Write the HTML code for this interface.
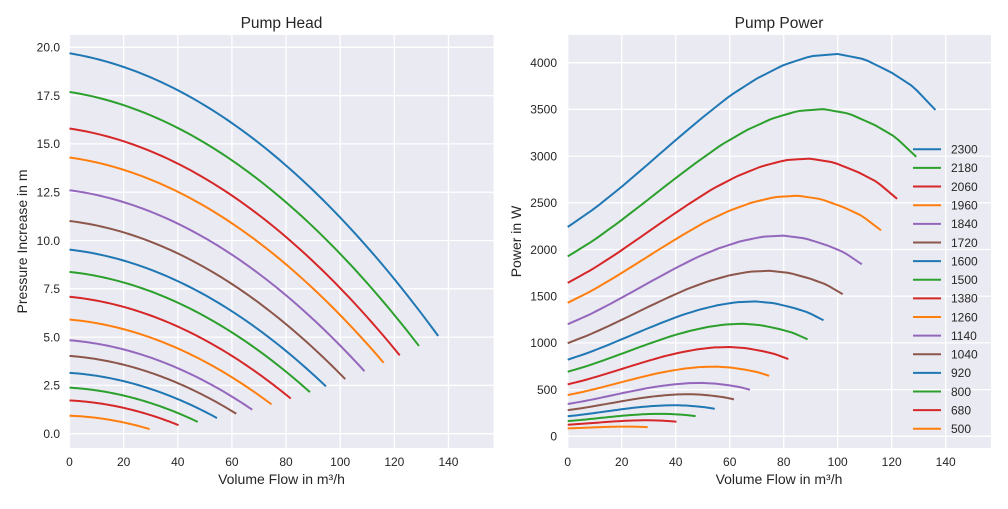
<!DOCTYPE html>
<html><head><meta charset="utf-8"><style>
html,body{margin:0;padding:0;background:#fff}
svg text{font-family:"Liberation Sans",Arial,sans-serif;fill:#262626}
</style></head><body>
<svg id="s" width="1008" height="504" xmlns="http://www.w3.org/2000/svg"></svg>
<script>
const s=document.getElementById('s');let h='';
const cols=['#1f77b4','#2ca02c','#d62728','#ff7f0e','#9467bd','#8c564b'];
const speeds=[2300,2180,2060,1960,1840,1720,1600,1500,1380,1260,1140,1040,920,800,680,500];
const L={x0:69.5,x1:493.5,y0:35,y1:448};
const lx=q=>69.5+q*2.707, ly=v=>433.7-v*19.32;
const R={x0:567.7,x1:991,y0:35,y1:448};
const rx=q=>567.7+q*2.7, ry=p=>436.3-p*0.0934;
function axes(A){h+=`<rect x="${A.x0}" y="${A.y0}" width="${A.x1-A.x0}" height="${A.y1-A.y0}" fill="#eaeaf2"/>`;}
axes(L);axes(R);
for(let q=0;q<=140;q+=20){
 let x=lx(q);h+=`<line x1="${x}" y1="${L.y0}" x2="${x}" y2="${L.y1}" stroke="#fff" stroke-width="1.3"/>`;
 h+=`<text x="${x}" y="466" font-size="12" text-anchor="middle">${q}</text>`;
 x=rx(q);h+=`<line x1="${x}" y1="${R.y0}" x2="${x}" y2="${R.y1}" stroke="#fff" stroke-width="1.3"/>`;
 h+=`<text x="${x}" y="466" font-size="12" text-anchor="middle">${q}</text>`;
}
for(let v=0;v<=20;v+=2.5){let y=ly(v);
 h+=`<line x1="${L.x0}" y1="${y}" x2="${L.x1}" y2="${y}" stroke="#fff" stroke-width="1.3"/>`;
 h+=`<text x="60" y="${y+4.3}" font-size="12" text-anchor="end">${v.toFixed(1)}</text>`;}
for(let p=0;p<=4000;p+=500){let y=ry(p);
 h+=`<line x1="${R.x0}" y1="${y}" x2="${R.x1}" y2="${y}" stroke="#fff" stroke-width="1.3"/>`;
 h+=`<text x="557" y="${y+4.3}" font-size="12" text-anchor="end">${p}</text>`;}
const T=[[0,2241],[10,2440],[20,2672],[30,2920],[40,3172],[50,3415],[60,3644],[70,3830],[80,3976],[90,4070],[100,4094],[110,4036],[120,3893],[128,3743],[136.2,3494]];
function f(q){for(let i=1;i<T.length;i++){if(q<=T[i][0]){const a=T[i-1],b=T[i];return a[1]+(b[1]-a[1])*(q-a[0])/(b[0]-a[0]);}}return T[T.length-1][1];}
const K=55;
speeds.forEach((n,i)=>{const r=n/2300,c=cols[i%6],qm=136.2*r;let p1='',p2='';
 for(let k=0;k<=60;k++){const Q=qm*k/60;const H=19.69*r*r-0.023*r*Q-0.00062*Q*Q;
  p1+=(k?'L':'M')+lx(Q).toFixed(2)+','+ly(H).toFixed(2);
  const P=K+r*r*r*(f(Q/r)-K)+200*r*r*(1-r);p2+=(k?'L':'M')+rx(Q).toFixed(2)+','+ry(P).toFixed(2);}
 h+=`<path d="${p1}" fill="none" stroke="${c}" stroke-width="2"/>`;
 h+=`<path d="${p2}" fill="none" stroke="${c}" stroke-width="2"/>`;
 const y=149.3+i*18.63;
 h+=`<line x1="913" y1="${y}" x2="941" y2="${y}" stroke="${c}" stroke-width="2"/>`;
 h+=`<text x="951" y="${y+4.3}" font-size="12">${n}</text>`;
});
h+=`<text x="281.5" y="28" font-size="15.5" text-anchor="middle">Pump Head</text>`;
h+=`<text x="779" y="28" font-size="15.5" text-anchor="middle">Pump Power</text>`;
h+=`<text x="281.5" y="484" font-size="14" text-anchor="middle">Volume Flow in m³/h</text>`;
h+=`<text x="779" y="484" font-size="14" text-anchor="middle">Volume Flow in m³/h</text>`;
h+=`<text transform="translate(27,241.5) rotate(-90)" font-size="14" text-anchor="middle">Pressure Increase in m</text>`;
h+=`<text transform="translate(521,241.5) rotate(-90)" font-size="14" text-anchor="middle">Power in W</text>`;
s.innerHTML=h;
</script>
</body></html>
